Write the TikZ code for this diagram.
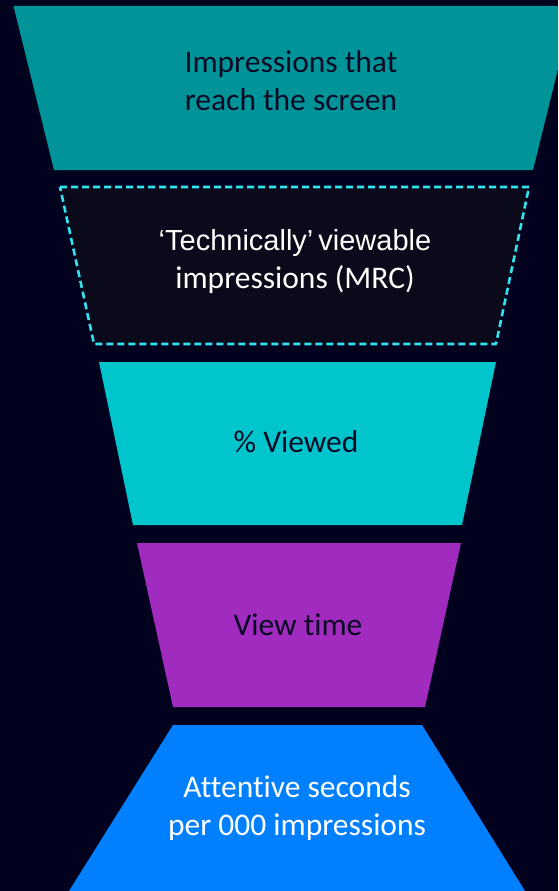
\documentclass[tikz,border=0pt]{standalone}
\usepackage{fontspec}
\setmainfont[Ligatures=NoCommon]{Carlito}
\newfontfamily\arialfont{Liberation Sans}
\definecolor{bgc}{HTML}{02021E}
\definecolor{tealc}{HTML}{009499}
\definecolor{boxc}{HTML}{0A0A1A}
\definecolor{dashc}{HTML}{33E3F0}
\definecolor{cyanc}{HTML}{00C5CD}
\definecolor{purc}{HTML}{A12BBF}
\definecolor{bluec}{HTML}{0080FF}
\definecolor{darktxt}{HTML}{0A0A24}
\tikzset{
  lbl/.style={align=center, font=\fontsize{31.5}{38}\selectfont, inner sep=0pt},
  darklbl/.style={lbl, text=darktxt},
  lightlbl/.style={lbl, text=white},
}
\begin{document}
\begin{tikzpicture}[x=1pt,y=-1pt]
\fill[bgc] (0,0) rectangle (558,891);
\useasboundingbox (0,0) rectangle (558,891);
\begin{scope}
\clip (0,0) rectangle (558,891);
% top teal
\fill[tealc] (13.5,6) -- (573.5,6) -- (533,170) -- (54,170) -- cycle;
% dashed
\fill[boxc] (60,187) -- (529,187) -- (496,344) -- (94,344) -- cycle;
\draw[dashc, line width=2.6pt, dash pattern=on 7pt off 4pt, line join=round] (60,187) -- (529,187) -- (496,344) -- (94,344) -- cycle;
% cyan
\fill[cyanc] (99,362) -- (496,362) -- (462,525) -- (133,525) -- cycle;
% purple
\fill[purc] (137,543) -- (461,543) -- (425,707) -- (173,707) -- cycle;
% blue
\fill[bluec] (173,725) -- (422,725) -- (525,891) -- (69,891) -- cycle;
\end{scope}
\node[darklbl] (t1) at (291,81) {Impressions that\\reach the screen};
\node[lightlbl] (t2) at (295,262) {{\arialfont\fontsize{29}{38}\selectfont ‘Technically’\kern-3pt{} viewable}\\impressions (MRC)};
\node[darklbl] (t3) at (296,442) {\% Viewed};
\node[darklbl] (t4) at (298,625) {View time};
\node[lightlbl] (t5) at (297,808) {Attentive seconds\\per 000 impressions};
\end{tikzpicture}
\end{document}
